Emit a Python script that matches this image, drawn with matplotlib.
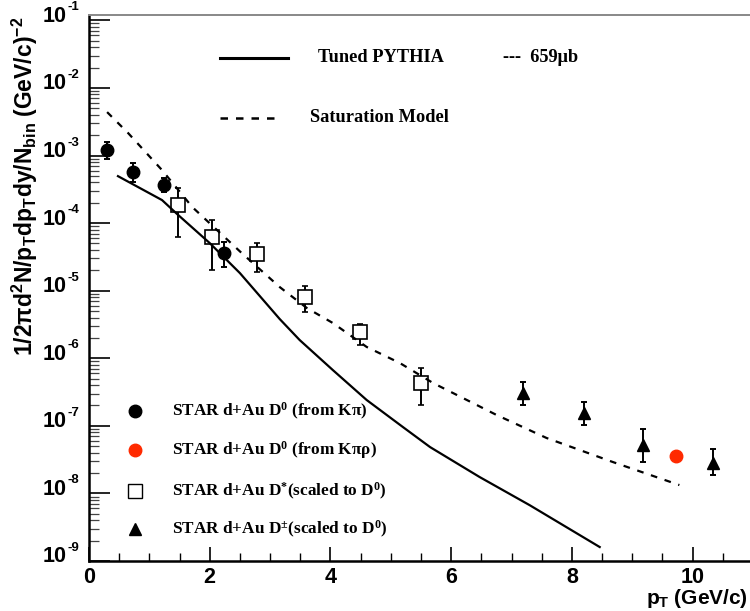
"""
plot.py - D meson pT spectra in d+Au compared with tuned PYTHIA and a saturation model
"""
import matplotlib
matplotlib.use("Agg")
import matplotlib.pyplot as plt
from matplotlib.ticker import FixedLocator, LogLocator, NullFormatter, MultipleLocator
from matplotlib.transforms import blended_transform_factory, ScaledTranslation

plt.rcParams["mathtext.fontset"] = "custom"
plt.rcParams["mathtext.rm"] = "Liberation Serif:bold"
plt.rcParams["mathtext.it"] = "Liberation Serif:italic:bold"
plt.rcParams["mathtext.bf"] = "Liberation Sans:bold"
plt.rcParams["mathtext.sf"] = "Liberation Sans:bold"

# model curves
PYTHIA_PT = [0.48, 1.21, 1.46, 2.00, 2.50, 3.16, 3.49, 4.04, 4.60, 5.20, 5.65, 6.47, 7.30, 8.46]
PYTHIA_Y  = [4.95e-4, 2.19e-4, 1.36e-4, 5.06e-5, 1.82e-5, 3.80e-6, 1.86e-6, 6.68e-7,
             2.41e-7, 9.6e-8, 4.85e-8, 1.75e-8, 6.7e-9, 1.61e-9]

SAT_PT = [0.30, 0.65, 1.21, 1.71, 2.53, 3.16, 3.61, 4.04, 4.60, 5.15, 5.70, 6.26, 6.75, 7.58, 8.68, 9.78]
SAT_Y  = [4.39e-3, 2.14e-3, 6.08e-4, 1.73e-4, 3.60e-5, 1.13e-5, 5.53e-6, 3.32e-6,
          1.47e-6, 8.49e-7, 4.30e-7, 2.41e-7, 1.45e-7, 6.61e-8, 2.91e-8, 1.33e-8]

# STAR d+Au D0 from K pi
D0_PT = [0.30, 0.73, 1.25, 2.23]
D0_Y  = [1.2e-3, 5.7e-4, 3.65e-4, 3.6e-5]
D0_LO = [8.9e-4, 4.05e-4, 2.9e-4, 2.23e-5]
D0_HI = [1.58e-3, 7.7e-4, 4.6e-4, 5.2e-5]

# STAR d+Au D0 from K pi rho
D0R_PT = [9.73]
D0R_Y  = [3.6e-8]
D0R_LO = [3.1e-8]
D0R_HI = [4.0e-8]

# STAR d+Au D* scaled to D0
DST_PT = [1.47, 2.04, 2.78, 3.58, 4.49, 5.50]
DST_Y  = [1.85e-4, 6.2e-5, 3.5e-5, 8.0e-6, 2.44e-6, 4.3e-7]
DST_LO = [6.2e-5, 2.0e-5, 1.9e-5, 4.8e-6, 1.57e-6, 2.03e-7]
DST_HI = [3.3e-4, 1.11e-4, 5.1e-5, 1.17e-5, 3.2e-6, 7.2e-7]

# STAR d+Au D+- scaled to D0
DPM_PT = [7.19, 8.20, 9.17, 10.33]
DPM_Y  = [3.05e-7, 1.55e-7, 5.2e-8, 2.8e-8]
DPM_LO = [2.03e-7, 1.03e-7, 2.9e-8, 1.87e-8]
DPM_HI = [4.45e-7, 2.25e-7, 9.0e-8, 4.5e-8]

Y_TICKS = [1e-9, 1e-8, 1e-7, 1e-6, 1e-5, 1e-4, 1e-3, 1e-2, 1e-1]
Y_EXPS  = ["-9", "-8", "-7", "-6", "-5", "-4", "-3", "-2", "-1"]
X_TICKS = [0, 2, 4, 6, 8, 10]

LEGEND_LABELS = [
    r"STAR d+Au D$^{0}$ (from K$\mathrm{\pi}$)",
    r"STAR d+Au D$^{0}$ (from K$\mathrm{\pi\rho}$)",
    r"STAR d+Au D$^{*}$(scaled to D$^{0}$)",
    r"STAR d+Au D$^{\pm}$(scaled to D$^{0}$)",
]

SERIF = ["Liberation Serif", "DejaVu Serif"]
SANS = "Liberation Sans"
W, H = 750, 611


def err(y, lo, hi):
    return [[a - b for a, b in zip(y, lo)], [b - a for a, b in zip(y, hi)]]


def main():
    fig = plt.figure(figsize=(W / 100, H / 100), dpi=100)
    ax = fig.add_axes([89 / W, 50 / H, (W - 89) / W, (561 - 15) / H])

    ax.set_yscale("log")
    ax.set_xlim(0, 10.95)
    ax.set_ylim(1e-9, 0.12)

    ebkw = dict(ls="none", ecolor="black", elinewidth=1.4, capsize=2, capthick=1.4, zorder=2)
    ax.errorbar(D0_PT, D0_Y, yerr=err(D0_Y, D0_LO, D0_HI), marker="o", ms=9,
                mfc="black", mec="black", **ebkw)
    ax.errorbar(D0R_PT, D0R_Y, yerr=err(D0R_Y, D0R_LO, D0R_HI), marker="o", ms=9,
                mfc="#ff2a00", mec="#ff2a00", **ebkw)
    ax.errorbar(DST_PT, DST_Y, yerr=err(DST_Y, DST_LO, DST_HI), marker="s", ms=9.5,
                mfc="white", mec="black", mew=1.2, **ebkw)
    ax.errorbar(DPM_PT, DPM_Y, yerr=err(DPM_Y, DPM_LO, DPM_HI), marker="^", ms=9,
                mfc="black", mec="black", **ebkw)

    ax.plot(PYTHIA_PT, PYTHIA_Y, color="black", lw=1.6, zorder=3)
    ax.plot(SAT_PT, SAT_Y, color="black", lw=1.6, ls=(0, (3, 3.5)), zorder=3)

    # ROOT-like ticks, labels drawn by hand so the exponent stays small
    ax.yaxis.set_major_locator(FixedLocator(Y_TICKS))
    ax.yaxis.set_major_formatter(NullFormatter())
    ax.yaxis.set_minor_locator(LogLocator(base=10, subs=range(2, 10), numticks=20))
    ax.yaxis.set_minor_formatter(NullFormatter())
    ax.xaxis.set_major_locator(FixedLocator(X_TICKS))
    ax.xaxis.set_minor_locator(MultipleLocator(0.5))
    ax.set_xticklabels([str(t) for t in X_TICKS])

    ax.tick_params(axis="y", which="major", direction="in", length=15, width=1.2)
    ax.tick_params(axis="y", which="minor", direction="in", length=7, width=0.9, color="#444")
    ax.tick_params(axis="x", which="major", direction="in", length=10, width=1.2, pad=4, labelsize=15.5)
    ax.tick_params(axis="x", which="minor", direction="in", length=5.5, width=1.0)
    for lab in ax.get_xticklabels():
        lab.set_fontfamily(SANS)
        lab.set_fontweight("bold")

    base = blended_transform_factory(ax.transAxes, ax.transData)
    t_ten = base + ScaledTranslation(-22 / 100, 4 / 100, fig.dpi_scale_trans)
    t_exp = base + ScaledTranslation(-21 / 100, 10 / 100, fig.dpi_scale_trans)
    for yv, ex in zip(Y_TICKS, Y_EXPS):
        ax.text(0, yv, "10", transform=t_ten, ha="right", va="center",
                family=SANS, weight="bold", fontsize=15.5)
        ax.text(0, yv, ex, transform=t_exp, ha="left", va="baseline",
                family=SANS, weight="bold", fontsize=9.5)

    ax.spines["right"].set_visible(False)
    ax.spines["left"].set_linewidth(1.8)
    ax.spines["bottom"].set_linewidth(1.8)
    ax.spines["top"].set_color("#888")
    ax.spines["top"].set_linewidth(1.4)

    fig.text(25 / W, 1 - 186 / H,
             r"$\mathsf{1/2\pi d^{2}N/p_{T}dp_{T}dy/N_{bin}\ (GeV/c)^{-2}}$",
             rotation=90, ha="center", va="center", fontsize=16.5)
    fig.text(748 / W, 1 - 598 / H, r"$\mathsf{p_{T}\ (GeV/c)}$",
             ha="right", va="center", fontsize=15)

    # upper legend (models)
    fig.add_artist(plt.Line2D([220 / W, 288 / W], [1 - 58 / H, 1 - 58 / H], color="black", lw=2.2,
                              transform=fig.transFigure))
    fig.add_artist(plt.Line2D([220 / W, 282 / W], [1 - 118 / H, 1 - 118 / H], color="black", lw=1.8,
                              ls=(0, (3, 3.2)), transform=fig.transFigure))
    fig.text(318 / W, 1 - 57 / H, "Tuned PYTHIA", family=SERIF, weight="bold", fontsize=13.2, va="center")
    fig.text(503 / W, 1 - 57 / H, "---  659\u03bcb", family=SERIF, weight="bold", fontsize=13.2, va="center")
    fig.text(310 / W, 1 - 118 / H, "Saturation Model", family=SERIF, weight="bold", fontsize=13.2, va="center")

    # lower legend (data)
    rows_y = [411, 450, 491, 529]
    styles = [dict(marker="o", mfc="black", mec="black", ms=9),
              dict(marker="o", mfc="#ff2a00", mec="#ff2a00", ms=9),
              dict(marker="s", mfc="white", mec="black", mew=1.0, ms=9.5),
              dict(marker="^", mfc="black", mec="black", ms=9)]
    for yy, st, lab in zip(rows_y, styles, LEGEND_LABELS):
        fig.add_artist(plt.Line2D([135 / W], [1 - yy / H], ls="none", transform=fig.transFigure, **st))
        fig.text(172 / W, 1 - yy / H, lab, family=SERIF, weight="bold", fontsize=12.4, va="center")

    fig.savefig("out.png", dpi=100)
    plt.close(fig)


if __name__ == "__main__":
    main()
